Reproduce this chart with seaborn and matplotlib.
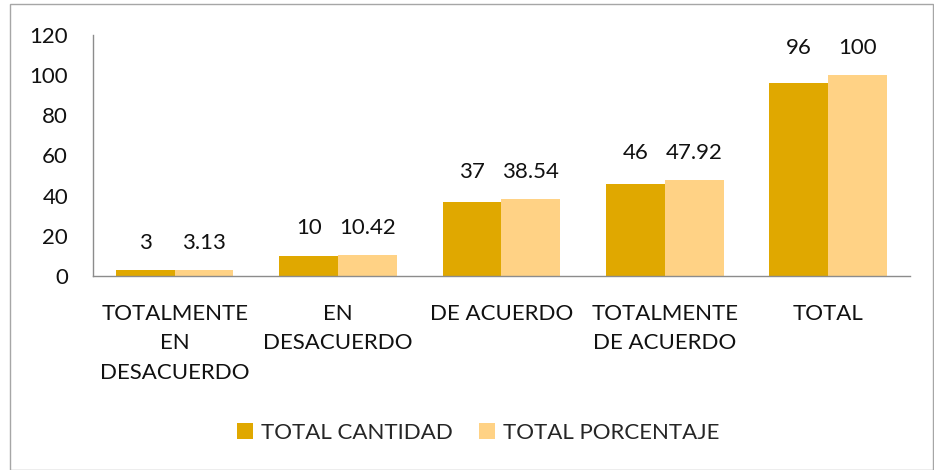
import seaborn as sns
import matplotlib.pyplot as plt
import pandas as pd
from matplotlib.patches import Rectangle

categorias = ["TOTALMENTE\nEN\nDESACUERDO", "EN\nDESACUERDO", "DE ACUERDO",
              "TOTALMENTE\nDE ACUERDO", "TOTAL"]
cantidad = [3, 10, 37, 46, 96]
porcentaje = [3.13, 10.42, 38.54, 47.92, 100]
series = ["TOTAL CANTIDAD", "TOTAL PORCENTAJE"]
colores = ["#E0A800", "#FFD285"]

sns.set_theme(style="white")
plt.rcParams['font.family'] = ['Lato', 'DejaVu Sans']

df = pd.DataFrame({
    "cat": categorias * 2,
    "valor": cantidad + porcentaje,
    "serie": [series[0]] * 5 + [series[1]] * 5,
})

fig = plt.figure(figsize=(9.34, 4.70), dpi=100)
ax = fig.add_axes([0.0996, 0.4128, 0.8744, 0.5127])
sns.barplot(data=df, x="cat", y="valor", hue="serie", palette=colores,
            width=0.72, saturation=1, linewidth=0, ax=ax, legend=True)

# labels sit at the same height within each group, above the taller bar
for cont in ax.containers:
    for bar, v, v2 in zip(cont, cont.datavalues, cantidad):
        i = round(bar.get_x() + bar.get_width() / 2)
        top = max(cantidad[i], porcentaje[i])
        ax.annotate("%g" % v, (bar.get_x() + bar.get_width() / 2, top),
                    xytext=(0, 19.5), textcoords="offset points",
                    ha="center", va="center", fontsize=16, color="#111111")

ax.set_ylim(0, 120)
ax.set_xlim(-0.5, 4.5)
ax.set_yticks(range(0, 121, 20))
ax.set_xlabel("")
ax.set_ylabel("")
ax.tick_params(axis="y", length=0, pad=18, labelsize=16, labelcolor="#111111")
ax.tick_params(axis="x", length=0, pad=20, labelsize=16, labelcolor="#111111")
for lbl in ax.get_xticklabels():
    lbl.set_linespacing(1.6)
sns.despine(ax=ax)
for s in ["left", "bottom"]:
    ax.spines[s].set_color("#8c8c8c")
    ax.spines[s].set_linewidth(1)

handles, labs = ax.get_legend_handles_labels()
ax.get_legend().remove()
fig.legend(handles, labs, loc="center", bbox_to_anchor=(0.512, 0.079), ncol=2,
           frameon=False, fontsize=16, handlelength=0.7, handleheight=0.7,
           handletextpad=0.35, columnspacing=1.2)

fig.patches.append(Rectangle((10 / 934, 0), 1 - 11 / 934, 1 - 4 / 470,
                             transform=fig.transFigure, fill=False,
                             edgecolor="#a6a6a6", linewidth=1))

fig.savefig("out.png", dpi=100)
